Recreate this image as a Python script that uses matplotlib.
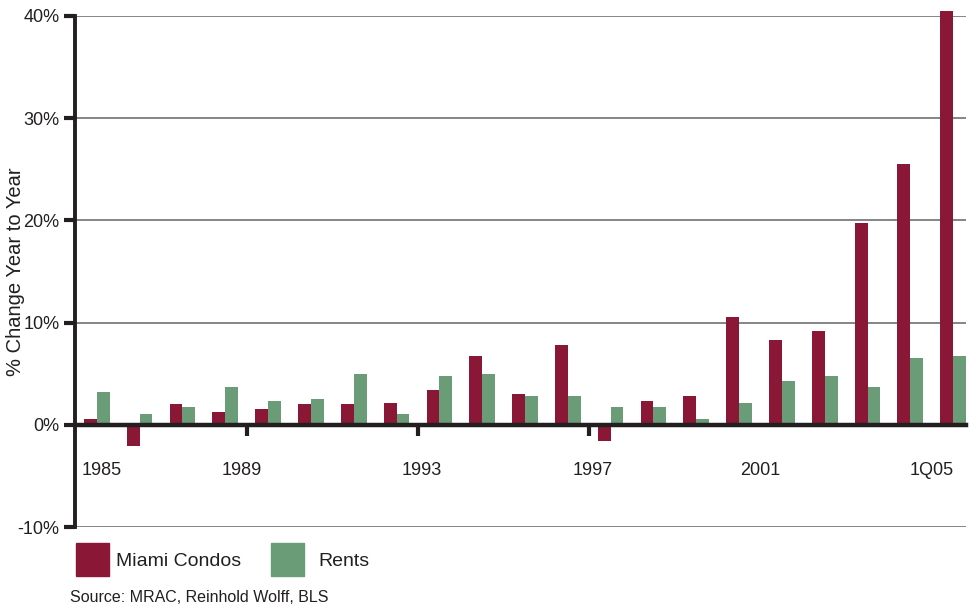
import matplotlib
matplotlib.use("Agg")
import matplotlib.pyplot as plt
from matplotlib.patches import Rectangle
import numpy as np

plt.rcParams['font.family'] = ['Liberation Sans', 'DejaVu Sans']

# Year-over-year % change, 1985 through 1Q05
periods = ['1985', '1986', '1987', '1988', '1989', '1990', '1991', '1992', '1993',
           '1994', '1995', '1996', '1997', '1998', '1999', '2000', '2001', '2002',
           '2003', '2004', '1Q05']
miami_condos = [0.6, -2.1, 2.0, 1.3, 1.5, 2.0, 2.0, 2.15, 3.4, 6.75, 3.0, 7.8, -1.6,
                2.3, 2.8, 10.5, 8.3, 9.2, 19.7, 25.5, 40.5]
rents = [3.2, 1.1, 1.7, 3.7, 2.3, 2.5, 5.0, 1.1, 4.8, 5.0, 2.8, 2.8, 1.7, 1.7, 0.6,
         2.1, 4.3, 4.8, 3.7, 6.5, 6.7]

series_names = ['Miami Condos', 'Rents']
series_colors = ['#8B1737', '#6A9C78']

x_labels = ['1985', '1989', '1993', '1997', '2001', '1Q05']
x_label_pos = [0.12, 3.38, 7.58, 11.58, 15.5, 19.5]
x_tick_marks = [3.5, 7.5, 11.5, 15.5, 19.5]
y_ticks = [-10, 0, 10, 20, 30, 40]

ink = '#231F20'

W, H = 976, 609
fig = plt.figure(figsize=(W / 100, H / 100), dpi=100)
ax = fig.add_axes([75 / W, 82 / H, (966 - 75) / W, (527 - 16) / H])

x = np.arange(len(periods))
bw = 0.3
ax.bar(x - bw / 2, miami_condos, bw, color=series_colors[0], zorder=3, clip_on=False)
ax.bar(x + bw / 2, rents, bw, color=series_colors[1], zorder=3, clip_on=False)

ax.set_xlim(-0.51, 20.3)
ax.set_ylim(-10, 40)

# y axis
ax.set_yticks(y_ticks)
ax.set_yticklabels([f'{v}%' for v in y_ticks])
ax.tick_params(axis='y', direction='out', length=8, width=3, color=ink,
               labelsize=13, labelcolor=ink, pad=3)
ax.grid(axis='y', color='#858585', lw=1.4, zorder=1)

# x axis drawn along the zero line
ax.spines['bottom'].set_position(('data', 0))
ax.spines['bottom'].set_linewidth(3.2)
ax.spines['bottom'].set_color(ink)
ax.spines['bottom'].set_zorder(4)
ax.spines['left'].set_linewidth(2.8)
ax.spines['left'].set_color(ink)
ax.spines['top'].set_visible(False)
ax.spines['right'].set_visible(False)

ax.set_xticks(x_label_pos)
ax.set_xticklabels(x_labels)
ax.set_xticks(x_tick_marks, minor=True)
ax.tick_params(axis='x', which='major', length=0, pad=27, labelsize=13, labelcolor=ink)
ax.tick_params(axis='x', which='minor', direction='out', length=8, width=3, color=ink)

ax.set_ylabel('% Change Year to Year', fontsize=14.5, color=ink)
ax.yaxis.set_label_coords(-50 / 891, 0.5)

# legend below the plot
lx = [76, 271]
tx = [116, 318]
for name, col, px, pt in zip(series_names, series_colors, lx, tx):
    fig.patches.append(Rectangle((px / W, 1 - 576 / H), 33 / W, 33 / H,
                                 transform=fig.transFigure, color=col))
    fig.text(pt / W, 1 - 561 / H, name, fontsize=14, color=ink, va='center', ha='left')

fig.text(70 / W, 1 - 598 / H, 'Source: MRAC, Reinhold Wolff, BLS', fontsize=11.5,
         color=ink, va='center', ha='left')

fig.savefig('out.png', dpi=100)
